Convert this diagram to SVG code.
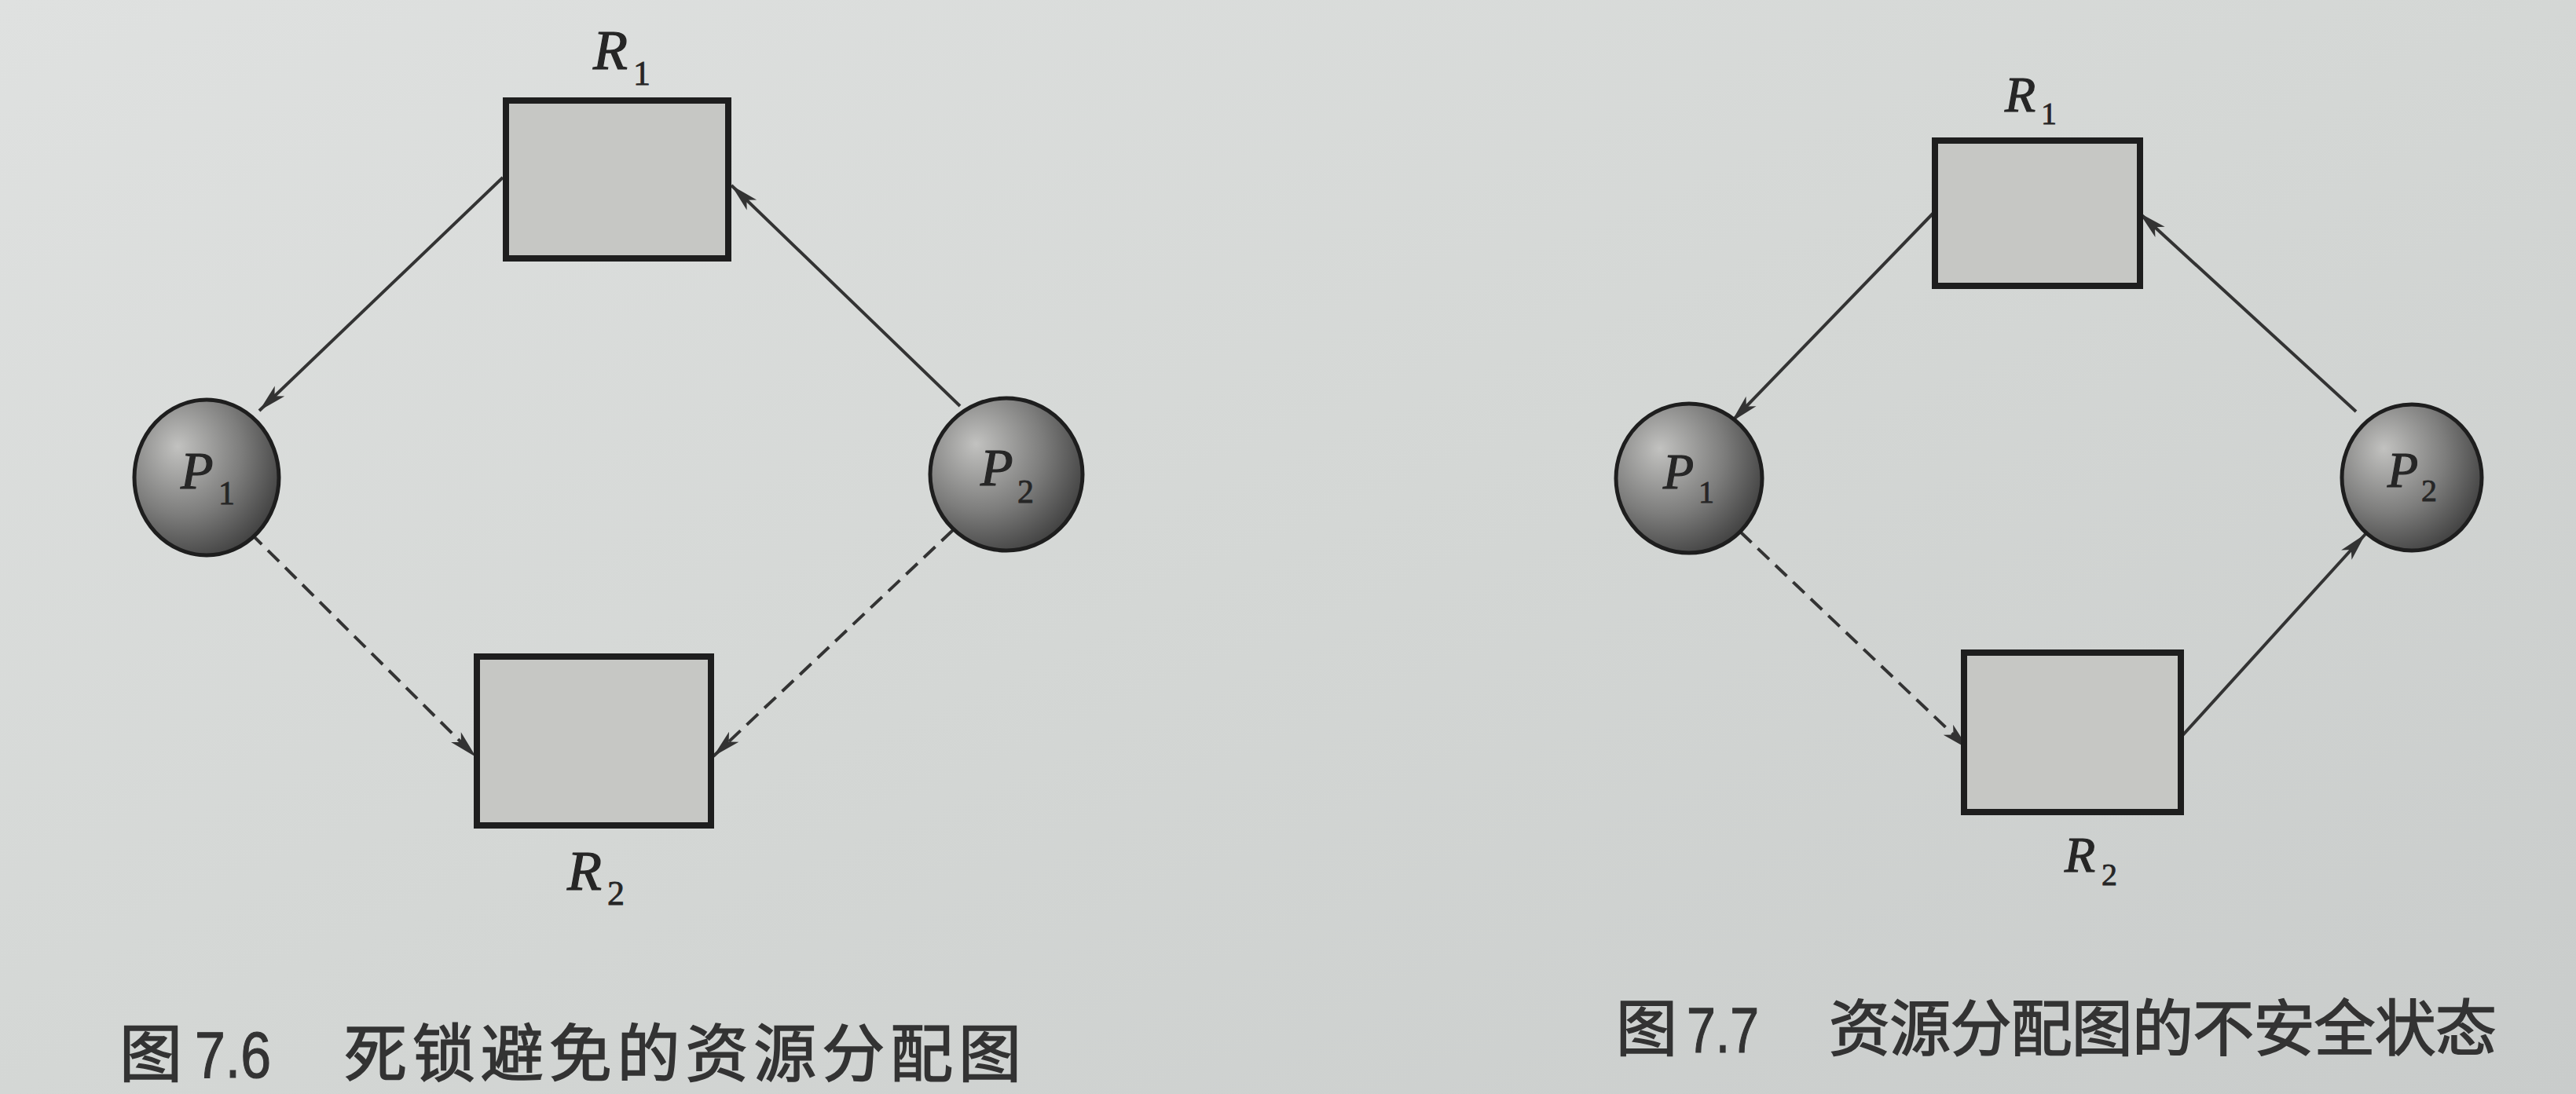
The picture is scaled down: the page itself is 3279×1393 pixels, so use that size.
<svg xmlns="http://www.w3.org/2000/svg" width="3279" height="1393" viewBox="0 0 3279 1393">
<style>
.bg{fill:url(#paper)}
.res{fill:#c6c7c4;stroke:#1e1e1e;stroke-width:8}
.proc{stroke:#1e1e1e;stroke-width:5}
.edge{fill:none;stroke:#333;stroke-width:4;marker-end:url(#arr)}
.dash{stroke-dasharray:20 11}
.lbl{font-family:"Liberation Serif","DejaVu Serif",serif;font-style:italic;fill:#262626;stroke:#262626;stroke-width:1.2}
.sub{font-family:"Liberation Serif","DejaVu Serif",serif;font-style:normal;fill:#262626;stroke:#262626;stroke-width:0.8}
.cap{font-family:"Noto Sans CJK SC","Noto Sans",sans-serif;fill:#333;stroke:#333;stroke-width:1.6}
.num{font-family:"Liberation Sans","Noto Sans",sans-serif;fill:#333;stroke:#333;stroke-width:1.2}
</style>
<defs>
<linearGradient id="paper" x1="0" y1="0" x2="1" y2="1">
<stop offset="0" stop-color="#dfe1e0"/>
<stop offset="0.5" stop-color="#d4d7d5"/>
<stop offset="1" stop-color="#c9cccb"/>
</linearGradient>
<radialGradient id="ball" cx="0.35" cy="0.35" r="0.75" fx="0.3" fy="0.3">
<stop offset="0" stop-color="#c2c2c0"/>
<stop offset="0.55" stop-color="#7d7d7c"/>
<stop offset="1" stop-color="#3a3a3a"/>
</radialGradient>
<marker id="arr" markerUnits="userSpaceOnUse" viewBox="-40 -12 42 24" markerWidth="42" markerHeight="24" refX="0" refY="0" orient="auto">
<path d="M0,0 L-36,-9 L-27,0 L-36,9 Z" fill="#333"/>
</marker>
</defs>
<rect class="bg" x="0" y="0" width="3279" height="1393"/>

<g id="connectors">
<line class="edge" x1="640" y1="226" x2="330" y2="523"/>
<line class="edge" x1="1222" y1="517" x2="931" y2="236"/>
<line class="edge dash" x1="319" y1="679" x2="606" y2="964"/>
<line class="edge dash" x1="1213" y1="675" x2="908" y2="963"/>
<line class="edge" x1="2466" y1="266" x2="2204" y2="537"/>
<line class="edge" x1="2999" y1="524" x2="2723" y2="271"/>
<line class="edge dash" x1="2215" y1="677" x2="2506" y2="954"/>
<line class="edge" x1="2774" y1="941" x2="3011" y2="680"/>
</g>

<g id="fig76-R1">
<rect class="res" x="644" y="128" width="283" height="201"/>
<text class="lbl" x="755" y="88" font-size="72">R</text><text class="sub" x="806" y="108" font-size="44">1</text>
</g>
<g id="fig76-P1">
<ellipse class="proc" cx="263" cy="608" rx="92" ry="99" fill="url(#ball)"/>
<text class="lbl" x="230" y="622" font-size="68">P</text><text class="sub" x="278" y="642" font-size="42">1</text>
</g>
<g id="fig76-P2">
<ellipse class="proc" cx="1281" cy="604" rx="97" ry="97" fill="url(#ball)"/>
<text class="lbl" x="1248" y="618" font-size="68">P</text><text class="sub" x="1295" y="640" font-size="42">2</text>
</g>
<g id="fig76-R2">
<rect class="res" x="607" y="836" width="298" height="215"/>
<text class="lbl" x="722" y="1133" font-size="72">R</text><text class="sub" x="773" y="1152" font-size="44">2</text>
</g>
<g id="fig76-caption">
<text class="cap" x="152" y="1370" font-size="80">图</text>
<text class="num" x="248" y="1372" font-size="84" textLength="97" lengthAdjust="spacingAndGlyphs">7.6</text>
<text class="cap" x="438" y="1370" font-size="80" textLength="862" lengthAdjust="spacing">死锁避免的资源分配图</text>
</g>

<g id="fig77-R1">
<rect class="res" x="2463" y="179" width="261" height="185"/>
<text class="lbl" x="2552" y="142" font-size="64">R</text><text class="sub" x="2598" y="158" font-size="40">1</text>
</g>
<g id="fig77-P1">
<ellipse class="proc" cx="2150" cy="609" rx="93" ry="95" fill="url(#ball)"/>
<text class="lbl" x="2117" y="622" font-size="64">P</text><text class="sub" x="2162" y="640" font-size="40">1</text>
</g>
<g id="fig77-P2">
<ellipse class="proc" cx="3070" cy="608" rx="89" ry="93" fill="url(#ball)"/>
<text class="lbl" x="3039" y="620" font-size="64">P</text><text class="sub" x="3082" y="638" font-size="40">2</text>
</g>
<g id="fig77-R2">
<rect class="res" x="2500" y="831" width="276" height="203"/>
<text class="lbl" x="2628" y="1110" font-size="64">R</text><text class="sub" x="2675" y="1127" font-size="40">2</text>
</g>
<g id="fig77-caption">
<text class="cap" x="2057" y="1338" font-size="78">图</text>
<text class="num" x="2147" y="1340" font-size="82" textLength="92" lengthAdjust="spacingAndGlyphs">7.7</text>
<text class="cap" x="2328" y="1338" font-size="78" textLength="850" lengthAdjust="spacing">资源分配图的不安全状态</text>
</g>
</svg>
